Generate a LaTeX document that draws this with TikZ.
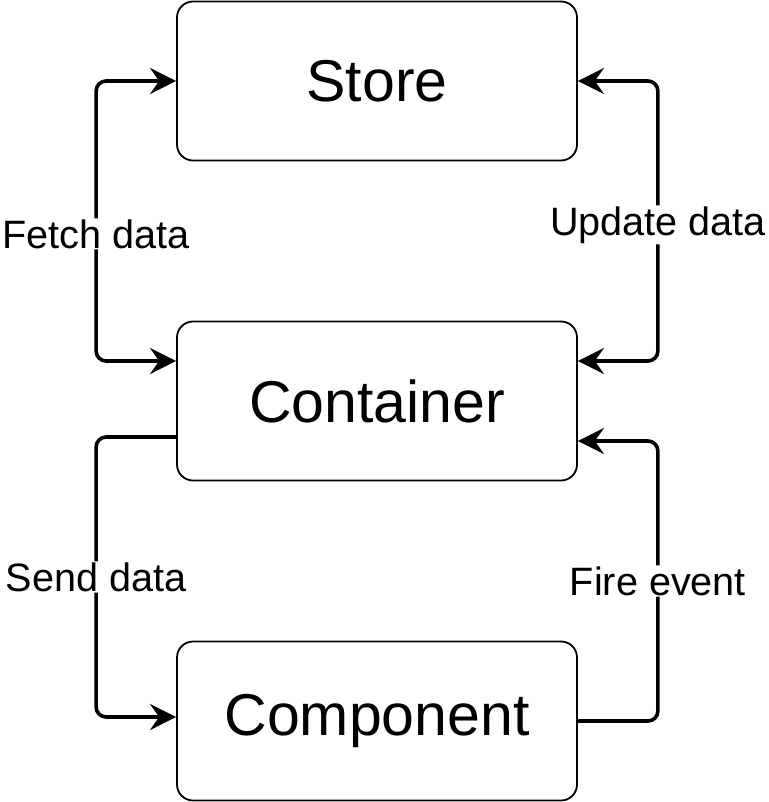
\documentclass[tikz,border=0pt]{standalone}
\usepackage{fontspec}
\setmainfont{Liberation Sans}
\usetikzlibrary{arrows.meta}

\tikzset{
  box/.style={draw, rectangle, rounded corners=16pt, line width=1.8pt, minimum width=400pt, minimum height=159pt, font=\fontsize{59}{70}\selectfont},
  flow/.style={line width=3.6pt, rounded corners=10pt},
  lab/.style={fill=white, inner sep=1pt, font=\fontsize{39.6}{46}\selectfont}
}

\begin{document}
\begin{tikzpicture}[x=1pt, y=-1pt, >={Stealth[length=26pt, width=26pt, inset=9pt]}]
	\useasboundingbox (0,0) rectangle (768,802);
	\node[box] (Store)at(377, 81) {Store};
	\node[box] (Container)at(377, 401) {Container};
	\node[box] (Component)at(377, 721) {Component};
	\draw[flow, <->] (Store.west) -- ++(-80,0) |- node[lab, pos=0.273] {Fetch data} ([yshift=40pt]Container.west);
	\draw[flow, <->] (Store.east) -- ++(80,0) |- node[lab, pos=0.257] {Update data} ([yshift=40pt]Container.east);
	\draw[flow, ->] ([yshift=-36pt]Container.west) -- ++(-80,0) |- node[lab, pos=0.25] {Send data} ([yshift=4pt]Component.west);
	\draw[flow, ->] (Component.east) -- ++(80,0) |- node[lab, pos=0.25] {Fire event} ([yshift=-40pt]Container.east);
\end{tikzpicture}
\end{document}
